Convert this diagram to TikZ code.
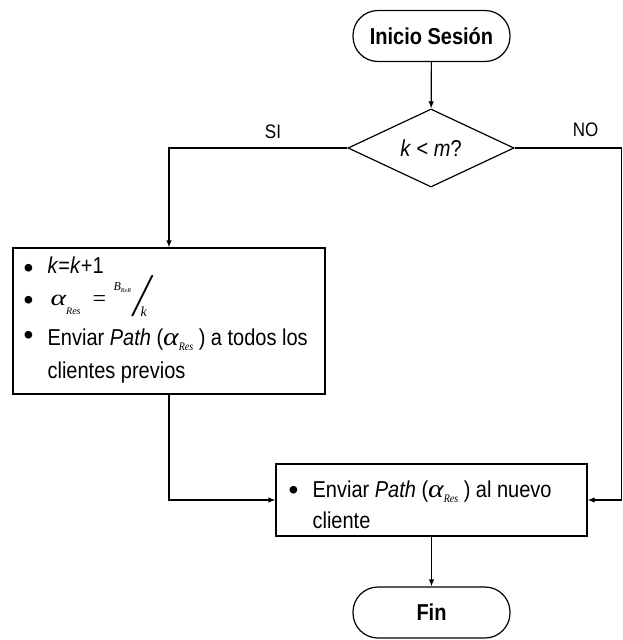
\documentclass[tikz,border=0pt]{standalone}
\usepackage{fontspec}
\setmainfont{Liberation Sans}
\newfontfamily\formfont{Liberation Serif}
\usepackage{graphicx}
\usetikzlibrary{shapes.geometric,arrows.meta}
% vertically stretched text, as set in the flowchart
\newcommand\tall[1]{\scalebox{1}[1.15]{#1}}
% formula text: serif italic at a given size
\newcommand\fml[2]{{\fontsize{#1}{#1}\formfont\itshape #2}}
% wide alpha with its small, lowered subscript
\newcommand\ares[1][5pt]{\scalebox{1.35}[1]{\fml{22}{α}}\raisebox{-#1}{\fml{10}{Res}}}
% list bullet
\newcommand\bul{{\fontsize{28}{28}\selectfont •}}
\begin{document}
\begin{tikzpicture}[x=1pt,y=-1pt,
  line width=1.2pt,
  flow/.style={-{Latex[length=7pt,width=5.5pt]}},
  term/.style={draw, rounded corners=25pt, minimum width=157pt, minimum height=51pt,
    inner sep=0pt, font=\fontsize{20}{24}\selectfont\bfseries},
  decision/.style={draw, diamond, minimum width=166pt, minimum height=58pt,
    inner sep=0pt, font=\fontsize{20}{24}\selectfont},
  proc/.style={draw, rectangle, inner sep=0pt},
  txt/.style={anchor=base west, inner sep=0pt, font=\fontsize{20}{24}\selectfont},
  lbl/.style={inner sep=0pt, font=\fontsize{17}{20}\selectfont}]

\useasboundingbox (0,0) rectangle (623,640);

% shapes
\node[term] (start) at (431.5,36) {\tall{Inicio Sesión}};
\node[decision] (dec) at (431,148) {\tall{\textit{k} < \textit{m}?}};
\node[proc, minimum width=312pt, minimum height=146pt] (box1) at (169,321) {};
\node[proc, minimum width=311pt, minimum height=72pt] (box2) at (431.5,500) {};
\node[term] (fin) at (431.5,612.5) {\tall{Fin}};

% first process box: k=k+1
\node[txt] (b1p1) at (23,277) {\bul};
\node[txt] (b1t1) at (47,273) {\tall{\textit{k}=\textit{k}+1}};
% first process box: alpha_Res = B_ReR / k
\node[txt] (b1p2) at (23,309) {\bul};
\node[txt] (b1a) at (50,305) {\ares[9pt]};
\node[txt] (b1eq) at (92,306) {{\fontsize{24}{24}\formfont =}};
\node[txt] (b1b) at (113,290) {\fml{12}{B}\raisebox{-2pt}{\fml{6}{ReR}}};
\node[txt] (b1sl) at (128,306) {\scalebox{2.9}[2.0]{$/$}};
\node[txt] (b1k) at (140,316) {\fml{14}{k}};
% first process box: sending to previous clients
\node[txt] (b1p3) at (23,344) {\bul};
\node[txt] (b1t3) at (47,345) {\tall{Enviar \textit{Path} (\ares\ ) a todos los}};
\node[txt] (b1t4) at (47,378) {\tall{clientes previos}};

% second process box
\node[txt] (b2p1) at (288,499) {\bul};
\node[txt] (b2t1) at (312,497) {\tall{Enviar \textit{Path} (\ares\ ) al nuevo}};
\node[txt] (b2t2) at (312,528) {\tall{cliente}};

% branch labels
\node[lbl] (si) at (273,132) {\tall{SI}};
\node[lbl] (no) at (585.5,130) {\tall{NO}};

% connectors
\coordinate (noturn) at (621.5,148);
\draw[flow] (start) -- (dec);
\draw[flow] (dec.west) -| (box1.north);
\draw[flow] (dec.east) -- (noturn) |- (box2.east);
\draw[flow] (box1.south) |- (box2.west);
\draw[flow] (box2) -- (fin);
\end{tikzpicture}
\end{document}
